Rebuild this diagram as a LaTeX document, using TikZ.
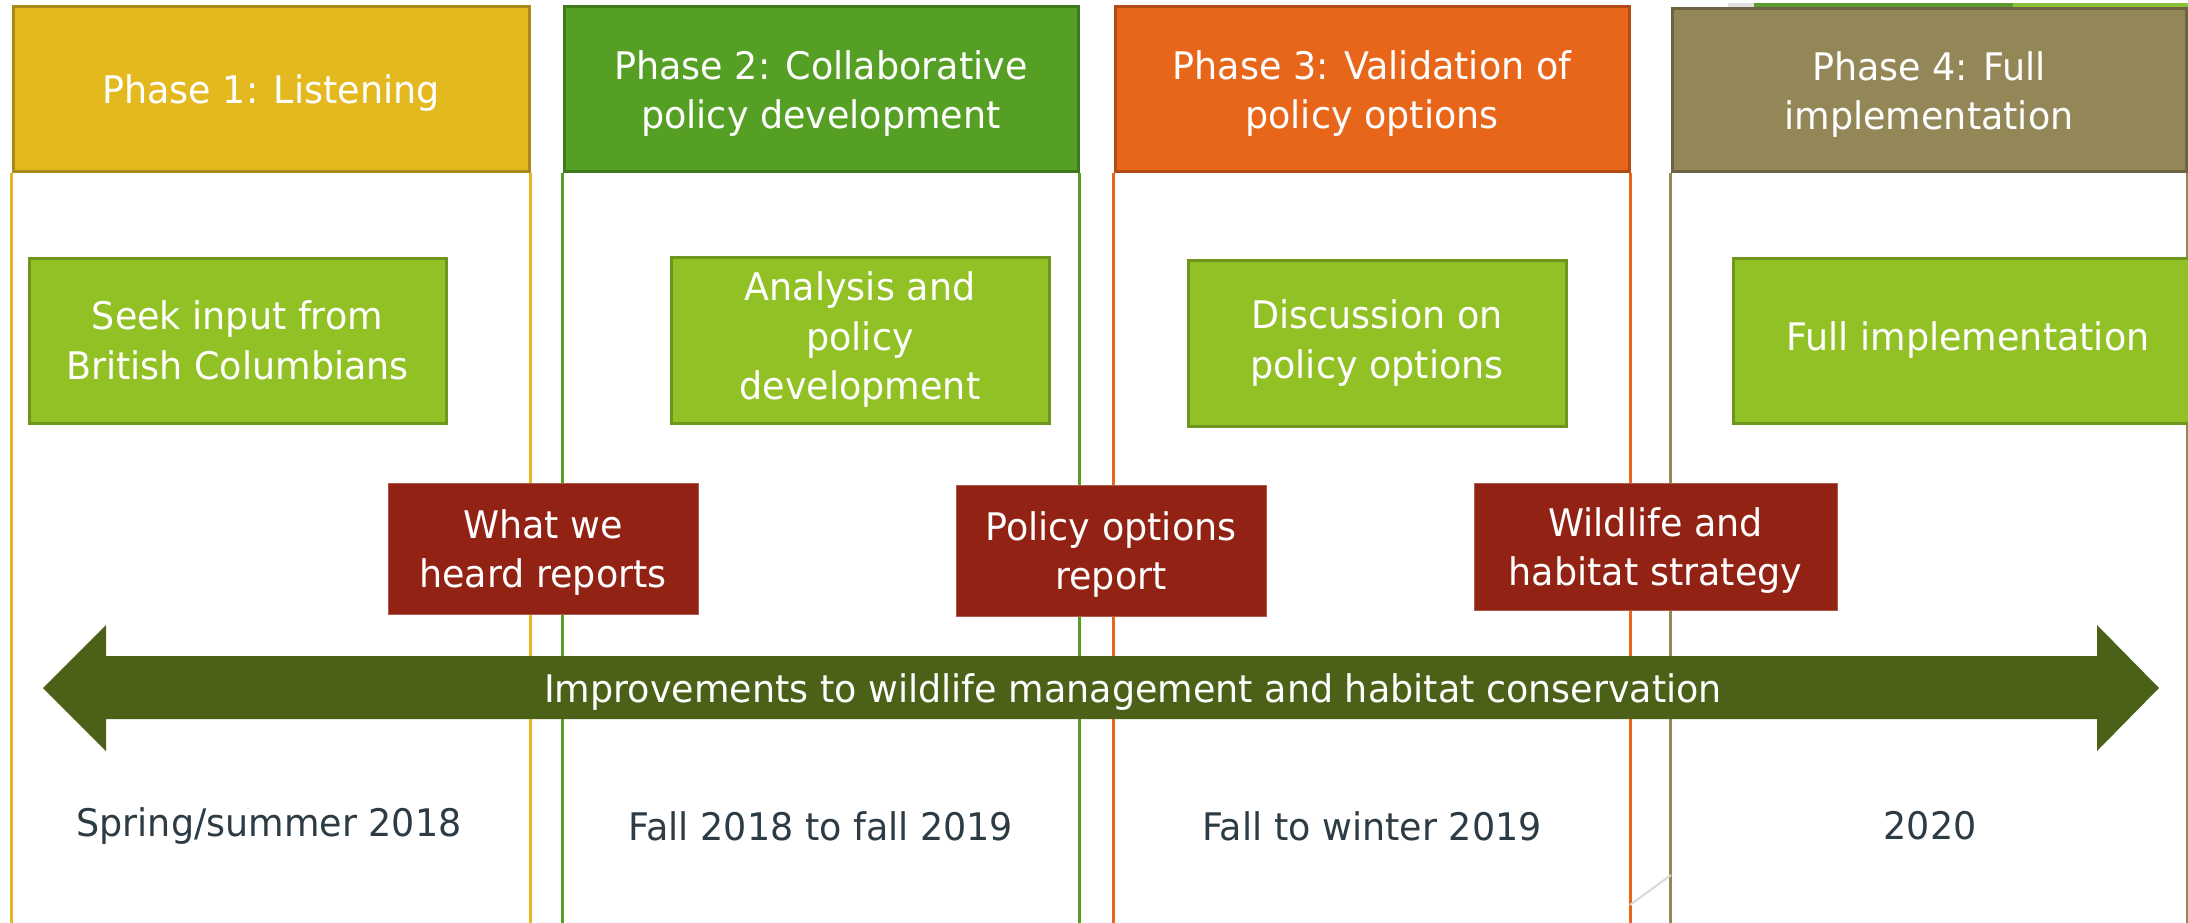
\documentclass[tikz,border=0pt]{standalone}
\usepackage{fontspec}
\setmainfont{DejaVu Sans}[FakeStretch=0.96]
\definecolor{p1}{HTML}{E4B920}
\definecolor{p1d}{HTML}{A8891A}
\definecolor{p2}{HTML}{55A024}
\definecolor{p2d}{HTML}{3E7A1C}
\definecolor{p3}{HTML}{E8661A}
\definecolor{p3d}{HTML}{B04C14}
\definecolor{p4}{HTML}{938757}
\definecolor{p4d}{HTML}{6C6441}
\definecolor{lg}{HTML}{92C126}
\definecolor{lgd}{HTML}{6E961E}
\definecolor{dr}{HTML}{922314}
\definecolor{drd}{HTML}{B05A4C}
\definecolor{arr}{HTML}{4B6117}
\definecolor{datec}{HTML}{2D3B45}
\definecolor{stripA}{HTML}{5E9A32}
\definecolor{stripB}{HTML}{8CC03A}
\newcommand{\bodyfnt}{\fontsize{38}{49.5}\selectfont}
\tikzset{
  hdr/.style={draw, line width=3pt, inner sep=0pt, align=center, text=white, font=\bodyfnt, text depth=0pt},
  gbox/.style={draw=lgd, fill=lg, line width=3pt, inner sep=0pt, align=center, text=white, font=\bodyfnt},
  rbox/.style={draw=drd, fill=dr, line width=1pt, inner sep=0pt, align=center, text=white, font=\bodyfnt, text depth=0pt},
  colline/.style={line width=3pt},
  datelbl/.style={inner sep=0pt, text=datec, font=\bodyfnt},
  arrtxt/.style={inner sep=0pt, text=white, font=\bodyfnt, text depth=0pt}
}
\begin{document}
\begin{tikzpicture}[x=1pt, y=-1pt]
\useasboundingbox (0,0) rectangle (2188,923);
\clip (0,0) rectangle (2188,923);
\fill[white] (0,0) rectangle (2188,923);
\coordinate (bot) at (0,923);

% top artifact strip above phase 4
\fill[gray!25] (1728,3) rectangle (1754,8);
\fill[stripA] (1754,3) rectangle (2013,8);
\fill[stripB] (2013,3) rectangle (2188,8);

% headers
\node[hdr, draw=p1d, fill=p1, minimum width=516pt, minimum height=165pt] (h1) at (271,89.5) {Phase 1: Listening};
\node[hdr, draw=p2d, fill=p2, minimum width=514pt, minimum height=165pt] (h2) at (821,89.5) {Phase 2: Collaborative\\policy development};
\node[hdr, draw=p3d, fill=p3, minimum width=514pt, minimum height=165pt] (h3) at (1372,89.5) {Phase 3: Validation of\\policy options};
\node[hdr, draw=p4d, fill=p4, minimum width=514pt, minimum height=163pt] (h4) at (1929,90.5) {Phase 4: Full\\implementation};

% column lines
\draw[colline, p1] (h1.south west) -- (h1.south west |- bot);
\draw[colline, p1] (h1.south east) -- (h1.south east |- bot);
\draw[colline, p2] (h2.south west) -- (h2.south west |- bot);
\draw[colline, p2] (h2.south east) -- (h2.south east |- bot);
\draw[colline, p3] (h3.south west) -- (h3.south west |- bot);
\draw[colline, p3] (h3.south east) -- (h3.south east |- bot);
\draw[colline, p4] (h4.south west) -- (h4.south west |- bot);
\draw[colline, p4] (h4.south east) -- (h4.south east |- bot);

% faint diagonal artifact
\coordinate (fa) at (1630,905);
\coordinate (fb) at (1671,875);
\draw[gray!30, line width=2pt] (fa) -- (fb);

% activity boxes
\node[gbox, minimum width=417pt, minimum height=165pt] (g1) at (237.5,340.5) {Seek input from\\British Columbians};
\node[gbox, minimum width=378pt, minimum height=166pt] (g2) at (860,340) {Analysis and\\policy\\development};
\node[gbox, minimum width=378pt, minimum height=166pt] (g3) at (1377,343) {Discussion on\\policy options};
\node[gbox, minimum width=470pt, minimum height=165pt] (g4) at (1968,340.5) {Full implementation};

% reports
\node[rbox, minimum width=310pt, minimum height=131pt] (r1) at (543,548.5) {What we\\heard reports};
\node[rbox, minimum width=310pt, minimum height=131pt] (r2) at (1111,550.5) {Policy options\\report};
\node[rbox, minimum width=363pt, minimum height=127pt] (r3) at (1655.5,546.5) {Wildlife and\\habitat strategy};

% double arrow
\coordinate (al) at (43,688);
\coordinate (ar) at (2159,688);
\fill[arr] (al) -- (106,625) -- (106,656) -- (2097,656) -- (2097,625) -- (ar)
  -- (2097,751) -- (2097,719) -- (106,719) -- (106,751) -- cycle;
\node[arrtxt] (atxt) at (1133,688) {Improvements to wildlife management and habitat conservation};

% dates
\node[datelbl] (d1) at (269,826) {Spring/summer 2018};
\node[datelbl] (d2) at (821,826) {Fall 2018 to fall 2019};
\node[datelbl] (d3) at (1372,826) {Fall to winter 2019};
\node[datelbl] (d4) at (1930,826) {2020};
\end{tikzpicture}
\end{document}
